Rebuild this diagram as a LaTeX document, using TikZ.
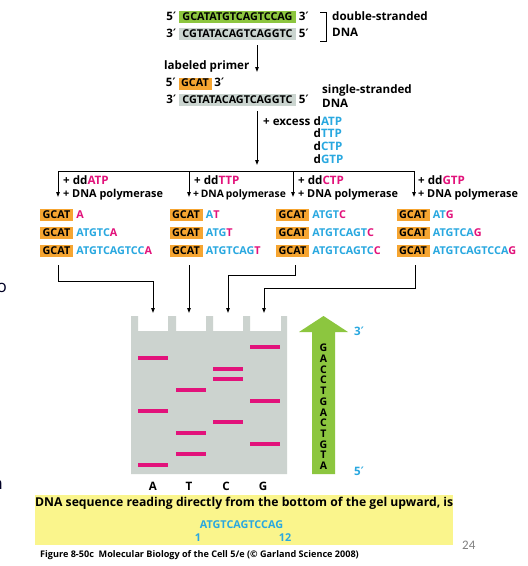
\documentclass[tikz,border=0pt]{standalone}
\usepackage{fontspec}
\setmainfont{Open Sans}
\newfontfamily\djv{DejaVu Sans}
\newfontfamily\carlitofont{Carlito}
\usetikzlibrary{arrows.meta}
\definecolor{sgreen}{HTML}{8DC63F}
\definecolor{sgray}{HTML}{CBD5D0}
\definecolor{sorange}{HTML}{F6A531}
\definecolor{cy}{HTML}{29A8E0}
\definecolor{mg}{HTML}{E2127B}
\definecolor{gelgray}{HTML}{CCD3CF}
\definecolor{agreen}{HTML}{8CC63F}
\definecolor{ylw}{HTML}{FAF58C}
\newcommand\prm{{\djv ′}}
\tikzset{
  txt/.style={inner sep=0pt, font=\bfseries\fontsize{11.6}{13}\selectfont, text height=8.4pt, text depth=2.4pt},
  seqtxt/.style={txt, font=\bfseries\fontsize{10.8}{13}\selectfont},
  seqbox/.style={seqtxt, minimum height=12pt},
  gbox/.style={seqbox, fill=sorange, minimum width=33pt},
  poltxt/.style={txt, font=\bfseries\fontsize{10.9}{13}\selectfont},
  arr/.style={line width=1pt, -{Triangle[length=5pt,width=3.5pt]}},
  ln/.style={line width=1pt},
  band/.style={fill=mg},
  gelletter/.style={txt, font=\bfseries\fontsize{10.5}{12}\selectfont, text height=7.6pt, text depth=0pt},
}
\begin{document}
\begin{tikzpicture}[x=1pt,y=-1pt]
\useasboundingbox (0,0) rectangle (528,566);
\fill[white] (0,0) rectangle (528,566);

% slide remnants at left edge
\node[inner sep=0pt, anchor=east, font=\fontsize{17}{17}\selectfont, text=black!85!blue] (rem1) at (7,288) {o};
\node[inner sep=0pt, anchor=east, font=\fontsize{17}{17}\selectfont, text=black!85!blue] (rem2) at (3,485) {n};

% double-stranded DNA
\node[seqbox, fill=sgreen, minimum width=117pt] (top) at (237.5,17) {GCATATGTCAGTCCAG};
\node[txt, anchor=east] (top5) at ([xshift=-2.5pt]top.west) {5\prm};
\node[txt, anchor=west] (top3) at ([xshift=2.5pt]top.east) {3\prm};
\node[seqbox, fill=sgray, minimum width=117pt] (bot) at (237.5,34) {CGTATACAGTCAGGTC};
\node[txt, anchor=east] (bot3) at ([xshift=-2.5pt]bot.west) {3\prm};
\node[txt, anchor=west] (bot5) at ([xshift=2.5pt]bot.east) {5\prm};
\coordinate (br1) at (320,12.5);
\coordinate (br2) at (320,41.5);
\draw[ln] (br1) -- ++(6.5,0) -- ++(0,29) -- (br2);
\node[txt, anchor=west] (ds1) at (332,17) {double-stranded};
\node[txt, anchor=west] (ds2) at (332,33) {DNA};

% arrow 1
\coordinate (a1s) at (257,45);
\coordinate (a1e) at (257,72);
\draw[arr] (a1s) -- (a1e);
\node[txt, anchor=west] (lp) at (164,66) {labeled primer};

% primer and single strand
\node[gbox] (pr) at (195,83.5) {GCAT};
\node[txt, anchor=east] (pr5) at ([xshift=-2.5pt]pr.west) {5\prm};
\node[txt, anchor=west] (pr3) at ([xshift=2.5pt]pr.east) {3\prm};
\node[seqbox, fill=sgray, minimum width=117pt] (ss) at (237.5,100) {CGTATACAGTCAGGTC};
\node[txt, anchor=east] (ss3) at ([xshift=-2.5pt]ss.west) {3\prm};
\node[txt, anchor=west] (ss5) at ([xshift=2.5pt]ss.east) {5\prm};
\node[txt, anchor=west] (ss1) at (322,90) {single-stranded};
\node[txt, anchor=west] (ss2) at (322,104) {DNA};

% arrow 2
\coordinate (a2s) at (257,111);
\coordinate (a2e) at (257,165);
\draw[arr] (a2s) -- (a2e);
\node[txt, anchor=west] (ex) at (263,122) {+ excess};
\node[txt, anchor=west] (datp) at ([xshift=3pt]ex.east) {d\textcolor{cy}{ATP}};
\node[txt, anchor=west] (dttp) at ([yshift=-12.7pt]datp.west) {d\textcolor{cy}{TTP}};
\node[txt, anchor=west] (dctp) at ([yshift=-12.7pt]dttp.west) {d\textcolor{cy}{CTP}};
\node[txt, anchor=west] (dgtp) at ([yshift=-12.7pt]dctp.west) {d\textcolor{cy}{GTP}};

% split
\coordinate (hA) at (58,171);
\coordinate (hT) at (189,171);
\coordinate (hC) at (293,171);
\coordinate (hG) at (414,171);
\coordinate (dA) at (58,197);
\coordinate (dT) at (189,197);
\coordinate (dC) at (293,197);
\coordinate (dG) at (414,197);
\draw[ln] (hA) -- (hG);
\draw[arr] (hA) -- (dA);
\draw[arr] (hT) -- (dT);
\draw[arr] (hC) -- (dC);
\draw[arr] (hG) -- (dG);
\foreach \n/\x/\b in {A/63/ATP, T/194/TTP, C/298/CTP, G/418/GTP}{
  \node[txt, anchor=west] (dd\n) at (\x,181) {+ dd\textcolor{mg}{\b}};
}
\node[poltxt, anchor=west] (polA) at (63,194) {+ DNA polymerase};
\node[poltxt, anchor=west, font=\bfseries\fontsize{10.3}{13}\selectfont] (polT) at (193,194) {+\,DNA\kern2pt polymerase};
\node[poltxt, anchor=west] (polC) at (298,194) {+ DNA polymerase};
\node[poltxt, anchor=west] (polG) at (418,194) {+ DNA polymerase};

% products
\foreach \n/\x in {A/56.5, T/186, C/292.5, G/413}{
  \node[gbox] (g\n1) at (\x,215) {GCAT};
  \node[gbox] (g\n2) at (\x,233) {GCAT};
  \node[gbox] (g\n3) at (\x,251) {GCAT};
}
\tikzset{prod/.style={seqtxt, anchor=west}}
\node[prod] (sA1) at ([xshift=3pt]gA1.east) {\textcolor{mg}{A}};
\node[prod] (sA2) at ([xshift=3pt]gA2.east) {\textcolor{cy}{ATGTC}\textcolor{mg}{A}};
\node[prod] (sA3) at ([xshift=3pt]gA3.east) {\textcolor{cy}{ATGTCAGTCC}\textcolor{mg}{A}};
\node[prod] (sT1) at ([xshift=3pt]gT1.east) {\textcolor{cy}{A}\textcolor{mg}{T}};
\node[prod] (sT2) at ([xshift=3pt]gT2.east) {\textcolor{cy}{ATG}\textcolor{mg}{T}};
\node[prod] (sT3) at ([xshift=3pt]gT3.east) {\textcolor{cy}{ATGTCAG}\textcolor{mg}{T}};
\node[prod] (sC1) at ([xshift=3pt]gC1.east) {\textcolor{cy}{ATGT}\textcolor{mg}{C}};
\node[prod] (sC2) at ([xshift=3pt]gC2.east) {\textcolor{cy}{ATGTCAGT}\textcolor{mg}{C}};
\node[prod] (sC3) at ([xshift=3pt]gC3.east) {\textcolor{cy}{ATGTCAGTC}\textcolor{mg}{C}};
\node[prod] (sG1) at ([xshift=3pt]gG1.east) {\textcolor{cy}{AT}\textcolor{mg}{G}};
\node[prod] (sG2) at ([xshift=3pt]gG2.east) {\textcolor{cy}{ATGTCA}\textcolor{mg}{G}};
\node[prod] (sG3) at ([xshift=3pt]gG3.east) {\textcolor{cy}{ATGTCAGTCCA}\textcolor{mg}{G}};

% connectors to gel
\coordinate (pA) at (58,265);
\coordinate (pT) at (189,265);
\coordinate (pC) at (295,265);
\coordinate (pG) at (415,265);
\coordinate (kA) at (153,281);
\coordinate (kC) at (228,275);
\coordinate (kG) at (264,288);
\coordinate (laneA) at (153,313);
\coordinate (laneT) at (189,313);
\coordinate (laneC) at (228,313);
\coordinate (laneG) at (264,313);
\draw[arr] (pA) |- (kA) -- (laneA);
\draw[arr] (pT) -- (laneT);
\draw[arr] (pC) |- (kC) -- (laneC);
\draw[arr] (pG) |- (kG) -- (laneG);

% gel
\fill[gelgray] (131,316) -- (131,474) -- (287,474) -- (287,316) -- (281,316) -- (281,331)
  -- (250,331) -- (250,316) -- (243,316) -- (243,331) -- (213,331) -- (213,316)
  -- (206,316) -- (206,331) -- (176,331) -- (176,316) -- (168,316) -- (168,331)
  -- (138,331) -- (138,316) -- cycle;
\foreach \x/\y in {138/358, 138/411, 138/465, 176/390, 176/433, 176/454, 213/369, 213/379, 213/422, 250/347, 250/401, 250/444}{
  \fill[band] (\x,\y-2.3) rectangle ++(30,4.6);
}

% green arrow
\fill[agreen] (312,474) -- (312,332) -- (299,332) -- (323.5,316) -- (348,332) -- (335,332) -- (335,474) -- cycle;
\foreach \l [count=\i from 0] in {G,A,C,C,T,G,A,C,T,G,T,A}{
  \node[gelletter] (ga\i) at (323.5,348+10.7*\i) {\l};
}
\node[txt, text=cy, anchor=west] (g3) at (354,332) {3\prm};
\node[txt, text=cy, anchor=west] (g5) at (354,472) {5\prm};

% lane labels
\node[txt] (lA) at (153,487) {A};
\node[txt] (lT) at (189,487) {T};
\node[txt] (lC) at (226,487) {C};
\node[txt] (lG) at (263,487) {G};

% yellow box
\fill[ylw] (35,495) rectangle (453,545);
\node[txt, anchor=west, font=\bfseries\fontsize{12.2}{13}\selectfont] (res) at (35,503.5) {DNA sequence reading directly from the bottom of the gel upward, is};
\node[txt, text=cy, font=\bfseries\fontsize{10.8}{12}\selectfont] (rseq) at (241.5,525) {ATGTCAGTCCAG};
\node[txt, text=cy, font=\bfseries\fontsize{10.8}{12}\selectfont] (r1) at (198,538) {1};
\node[txt, text=cy, font=\bfseries\fontsize{10.8}{12}\selectfont] (r12) at (285,538) {12};

\node[inner sep=0pt, anchor=west, text=black!50, font=\carlitofont\fontsize{13}{14}\selectfont] (pg) at (462,545) {24};
\node[inner sep=0pt, anchor=west, font=\bfseries\fontsize{9.1}{10}\selectfont] (cap) at (40,555.5) {Figure 8-50c\ \ Molecular Biology of the Cell 5/e (© Garland Science 2008)};
\end{tikzpicture}
\end{document}
